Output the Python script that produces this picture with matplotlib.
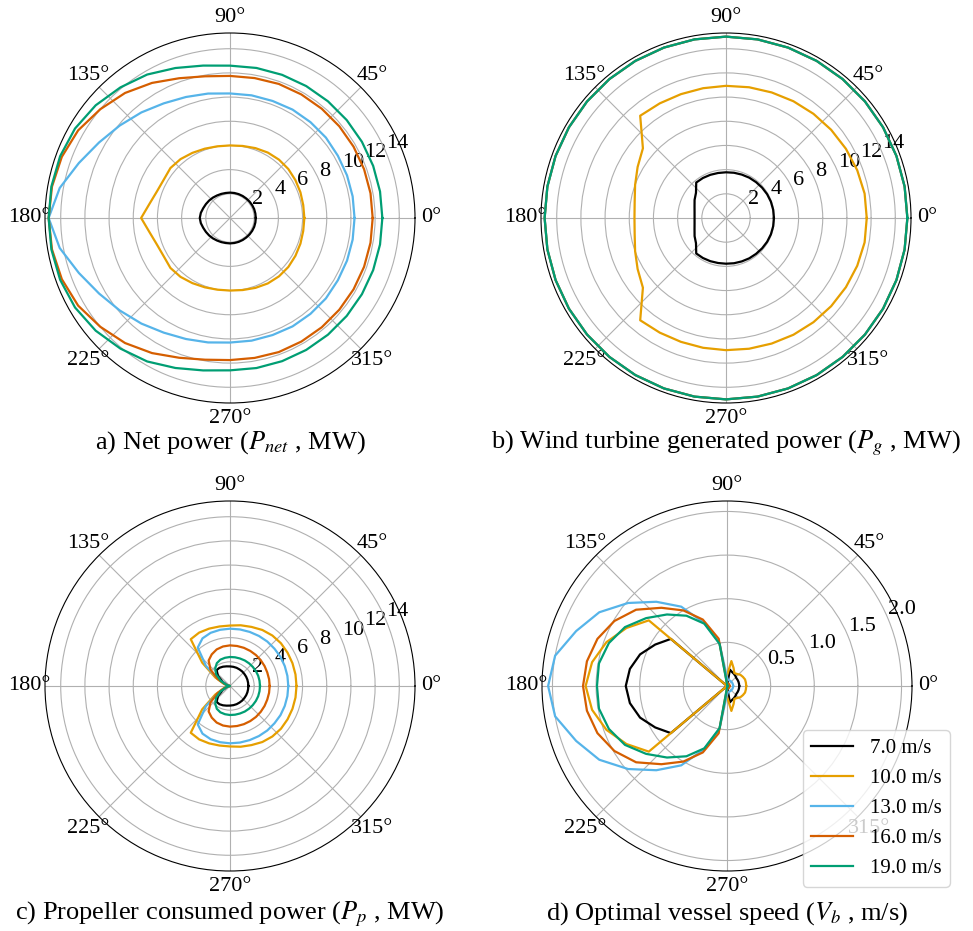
import numpy as np
import matplotlib
matplotlib.use('Agg')
import matplotlib.pyplot as plt

plt.rcParams['font.family'] = ['Liberation Serif', 'DejaVu Serif']
plt.rcParams['mathtext.fontset'] = 'stix'

# angulos 0..180 cada 10 grados (curvas simetricas respecto al eje 0-180)
angulos = np.arange(0, 190, 10)
velocidades = ['7.0 m/s', '10.0 m/s', '13.0 m/s', '16.0 m/s', '19.0 m/s']
colores = ['black', '#E69F00', '#56B4E9', '#D55E00', '#009E73']

# a) potencia neta (MW)
p_net_7 = [2.13, 2.13, 2.13, 2.12, 2.11, 2.1, 2.1, 2.1, 2.1, 2.1, 2.1, 2.12, 2.15, 2.2, 2.25, 2.3, 2.36, 2.45, 2.5]
p_net_10 = [6.15, 6.15, 6.2, 6.25, 6.3, 6.3, 6.25, 6.15, 6.05, 6.0, 6.02, 6.1, 6.22, 6.36, 6.43, 6.33, 6.43, 6.76, 7.35]
p_net_13 = [10.3, 10.3, 10.3, 10.3, 10.35, 10.35, 10.35, 10.3, 10.3, 10.3, 10.45, 10.65, 10.95, 11.4, 11.9, 12.5, 13.3, 14.3, 15.0]
p_net_16 = [11.8, 11.8, 11.8, 11.8, 11.8, 11.8, 11.8, 11.8, 11.75, 11.75, 11.9, 12.3, 12.9, 13.5, 14.0, 14.5, 14.8, 14.95, 15.0]
p_net_19 = [12.6, 12.6, 12.6, 12.6, 12.6, 12.6, 12.6, 12.6, 12.6, 12.6, 12.8, 13.2, 13.7, 14.1, 14.5, 14.8, 14.95, 15.0, 15.0]

# b) potencia generada por la turbina (MW)
p_g_7 = [3.96, 3.96, 3.95, 3.93, 3.9, 3.87, 3.85, 3.82, 3.8, 3.78, 3.78, 3.8, 3.82, 3.83, 3.24, 3.0, 2.77, 2.64, 2.6]
p_g_10 = [11.64, 11.64, 11.55, 11.45, 11.35, 11.25, 11.15, 11.05, 10.98, 10.93, 10.9, 10.9, 10.95, 11.04, 8.97, 8.44, 8.0, 7.67, 7.57]
p_g_13 = [15.0] * 19
p_g_16 = [15.0] * 19
p_g_19 = [15.0] * 19

# c) potencia consumida por la helice (MW)
p_p_7 = [1.52, 1.52, 1.53, 1.54, 1.55, 1.57, 1.58, 1.6, 1.61, 1.62, 1.65, 1.7, 1.74, 1.72, 1.3, 0.7, 0.3, 0.08, 0.0]
p_p_10 = [5.5, 5.5, 5.5, 5.5, 5.5, 5.45, 5.35, 5.2, 5.1, 5.0, 5.0, 5.05, 5.1, 5.05, 3.0, 1.4, 0.55, 0.12, 0.0]
p_p_13 = [4.82, 4.82, 4.82, 4.82, 4.8, 4.8, 4.78, 4.76, 4.75, 4.74, 4.72, 4.68, 4.55, 4.15, 2.6, 1.1, 0.35, 0.08, 0.0]
p_p_16 = [3.28, 3.28, 3.28, 3.3, 3.32, 3.34, 3.35, 3.36, 3.36, 3.36, 3.32, 3.22, 3.02, 2.75, 2.1, 1.2, 0.5, 0.12, 0.0]
p_p_19 = [2.48, 2.48, 2.48, 2.47, 2.46, 2.45, 2.44, 2.42, 2.41, 2.4, 2.37, 2.32, 2.18, 1.9, 1.5, 0.9, 0.4, 0.1, 0.0]

# d) velocidad optima del buque (m/s)
v_b_7 = [0.14, 0.14, 0.14, 0.14, 0.14, 0.15, 0.16, 0.17, 0.19, 0.0, 0.0, 0.0, 0.0, 0.0, 0.84, 0.95, 1.06, 1.13, 1.16]
v_b_10 = [0.22, 0.22, 0.22, 0.21, 0.2, 0.18, 0.17, 0.22, 0.29, 0.12, 0.02, 0.0, 0.0, 0.0, 1.17, 1.33, 1.47, 1.57, 1.62]
v_b_13 = [0.07, 0.07, 0.07, 0.07, 0.07, 0.07, 0.07, 0.07, 0.07, 0.1, 0.5, 0.77, 1.05, 1.26, 1.48, 1.69, 1.84, 2.0, 2.05]
v_b_16 = [0.03, 0.03, 0.03, 0.03, 0.03, 0.03, 0.03, 0.03, 0.03, 0.03, 0.55, 0.81, 1.0, 1.17, 1.36, 1.49, 1.58, 1.63, 1.65]
v_b_19 = [0.01, 0.01, 0.01, 0.01, 0.01, 0.01, 0.01, 0.01, 0.01, 0.02, 0.49, 0.76, 0.93, 1.07, 1.21, 1.35, 1.44, 1.49, 1.49]

paneles = [
    ([p_net_7, p_net_10, p_net_13, p_net_16, p_net_19], r'a) Net power ($P_{net}$ , MW)'),
    ([p_g_7, p_g_10, p_g_13, p_g_16, p_g_19], r'b) Wind turbine generated power ($P_g$ , MW)'),
    ([p_p_7, p_p_10, p_p_13, p_p_16, p_p_19], r'c) Propeller consumed power ($P_p$ , MW)'),
    ([v_b_7, v_b_10, v_b_13, v_b_16, v_b_19], r'd) Optimal vessel speed ($V_b$ , m/s)'),
]

# curva completa 0..360 reflejando la mitad superior
theta = np.deg2rad(np.concatenate([angulos, 360 - angulos[-2::-1]]))

def completar(r):
    r = np.asarray(r)
    return np.concatenate([r, r[-2::-1]])

fig = plt.figure(figsize=(9.73, 9.31), dpi=100)
W, H = 973.0, 931.0
radio = 185.0
centros = [(230, 218), (726, 218), (230, 686), (727, 686)]
y_titulos = [443, 443, 914, 914]

for i, (series, titulo) in enumerate(paneles):
    cx, cy = centros[i]
    ax = fig.add_axes([(cx - radio) / W, 1 - (cy + radio) / H, 2 * radio / W, 2 * radio / H],
                      projection='polar')
    for r, c, lab in zip(series, colores, velocidades):
        ax.plot(theta, completar(r), color=c, linewidth=1.6, label=lab)
    if i < 3:
        ax.set_ylim(0, 15.3)
        ax.set_rticks([2, 4, 6, 8, 10, 12, 14])
    else:
        ax.set_ylim(0, 2.12)
        ax.set_rticks([0.5, 1.0, 1.5, 2.0])
    ax.set_rlabel_position(22.5)
    ax.tick_params(labelsize=16)
    ax.tick_params(axis='x', pad=1)
    ax.grid(True, color='#b0b0b0', linewidth=0.8)
    fig.text(cx / W, 1 - y_titulos[i] / H, titulo, ha='center', va='center', fontsize=19)
    if i == 3:
        ax.legend(loc='lower right', bbox_to_anchor=(960 / W, 1 - 897 / H),
                  bbox_transform=fig.transFigure, fontsize=15)

plt.savefig('out.png', dpi=100)
